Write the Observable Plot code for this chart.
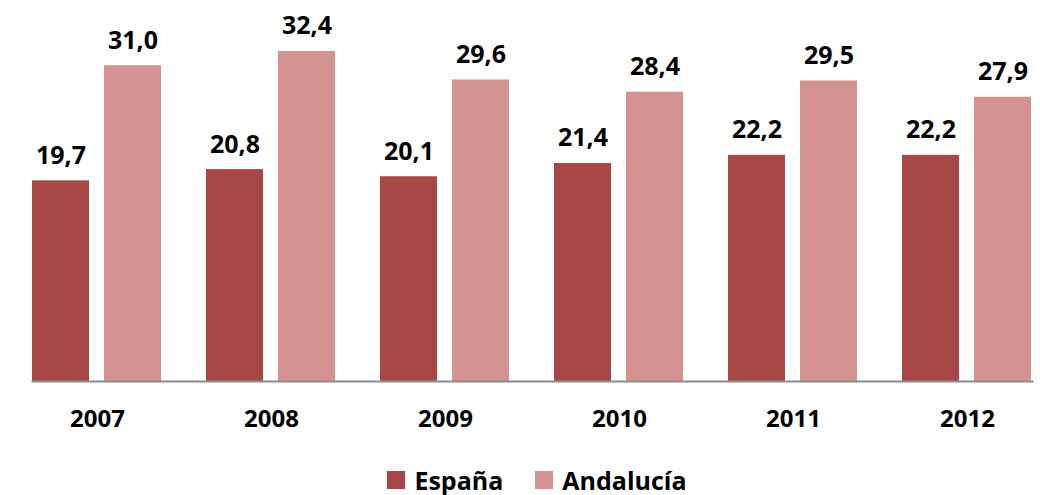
<!DOCTYPE html>
<html>
<head>
<meta charset="utf-8">
<script src="https://cdn.jsdelivr.net/npm/d3@7"></script>
<script src="https://cdn.jsdelivr.net/npm/@observablehq/plot@0.6"></script>
<style>
  body { margin: 0; background: #fff; font-family: "Open Sans", sans-serif; }
  #legend { display: flex; justify-content: center; align-items: center; gap: 32px; padding-left: 34px; margin-top: 20px; height: 40px; font-weight: bold; font-size: 25px; color: #000; }
  .item { display: flex; align-items: center; gap: 9px; }
  .sw { width: 18px; height: 18px; display: inline-block; }
</style>
</head>
<body>
<div id="chart"></div>
<div id="legend"></div>
<script>
const years = ["2007", "2008", "2009", "2010", "2011", "2012"];
const series = ["España", "Andalucía"];
const espana = [19.7, 20.8, 20.1, 21.4, 22.2, 22.2];
const andalucia = [31.0, 32.4, 29.6, 28.4, 29.5, 27.9];
const colors = ["#A84846", "#D49291"];

const data = [];
years.forEach((y, i) => {
  data.push({year: y, serie: series[0], value: espana[i]});
  data.push({year: y, serie: series[1], value: andalucia[i]});
});
const fmt = v => v.toFixed(1).replace(".", ",");

const plot = Plot.plot({
  width: 1040,
  height: 440,
  marginTop: 0,
  marginBottom: 59,
  marginLeft: 10,
  marginRight: 0,
  style: {fontFamily: "'Open Sans', sans-serif", color: "#000", background: "#fff", overflow: "visible"},
  fx: {domain: years, range: [10, 1054], paddingInner: 0.253, paddingOuter: 0.126, axis: null},
  x: {domain: series, paddingInner: 0.205, paddingOuter: 0, axis: null},
  y: {domain: [0, 37.4], axis: null},
  color: {domain: series, range: colors},
  marks: [
    Plot.barY(data, {fx: "year", x: "serie", y: "value", fill: "serie"}),
    Plot.text(data, {fx: "year", x: "serie", y: "value", text: d => fmt(d.value), lineAnchor: "bottom", dy: -17, fontSize: 25, fontWeight: "bold", fill: "#000"}),
    Plot.frame({anchor: "bottom", facet: "super", stroke: "#8c8c8c", strokeWidth: 2}),
    Plot.axisFx({anchor: "bottom", tickSize: 0, tickPadding: 28, fontSize: 24, fontWeight: "bold", fill: "#000", label: null})
  ]
});
document.getElementById("chart").appendChild(plot);

const legend = document.getElementById("legend");
series.forEach((s, i) => {
  const it = document.createElement("div");
  it.className = "item";
  const sw = document.createElement("span");
  sw.className = "sw";
  sw.style.background = colors[i];
  const t = document.createElement("span");
  t.textContent = s;
  it.appendChild(sw); it.appendChild(t);
  legend.appendChild(it);
});
</script>
</body>
</html>
